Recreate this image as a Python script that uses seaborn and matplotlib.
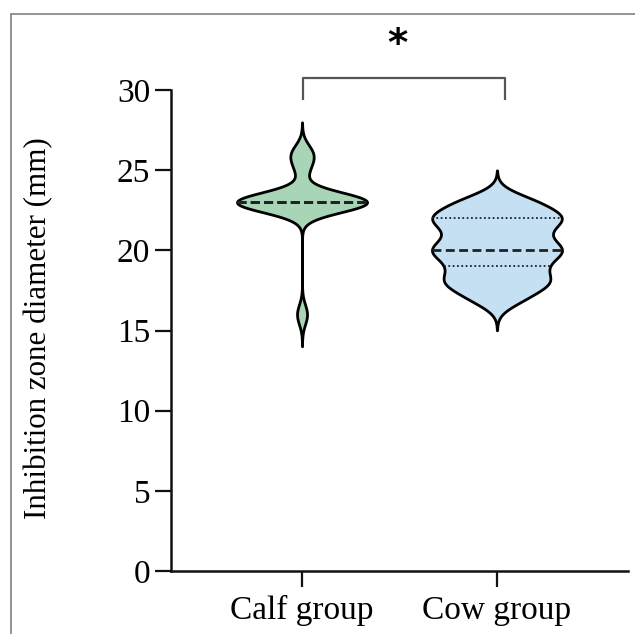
import numpy as np
import pandas as pd
import matplotlib
matplotlib.use("Agg")
import matplotlib.pyplot as plt
from matplotlib.lines import Line2D
import seaborn as sns

# ---- data ----
categories = ["Calf group", "Cow group"]
calf_values = [16, 23, 23, 23, 23, 23, 23, 23, 23, 23, 23, 23, 23, 23, 25, 26, 26]
cow_values = [17, 17, 18, 18, 18, 18, 19, 19, 19, 20, 20, 20, 20, 20,
              21, 21, 21, 22, 22, 22, 22, 22, 23, 23, 23]
yticks = [0, 5, 10, 15, 20, 25, 30]
ylabel = "Inhibition zone diameter (mm)"
sig_label = "*"
fill_colors = ["#a7d5b6", "#c5dff3"]

# ---- style ----
sns.set_style("ticks")
plt.rcParams["font.family"] = ["Liberation Serif", "DejaVu Serif"]
plt.rcParams["text.color"] = "black"
plt.rcParams["axes.labelcolor"] = "black"
plt.rcParams["xtick.color"] = "black"
plt.rcParams["ytick.color"] = "black"

df = pd.DataFrame({
    "group": [categories[0]] * len(calf_values) + [categories[1]] * len(cow_values),
    "value": calf_values + cow_values,
})

W, H = 635, 634
fig = plt.figure(figsize=(W / 100, H / 100), dpi=100)
ax = fig.add_axes([171 / W, 1 - 571 / H, (628 - 171) / W, (571 - 90) / H])

target_bw = 0.62
sns.violinplot(
    data=df, x="group", y="value", hue="group", order=categories,
    hue_order=categories, palette=dict(zip(categories, fill_colors)),
    legend=False, saturation=1, density_norm="width", width=0.667,
    bw_method=lambda k: target_bw / np.std(k.dataset, ddof=1),
    cut=3.2, gridsize=400, linewidth=2.0, linecolor="black",
    inner="quart", inner_kws=dict(linewidth=1.2, color="#222222"), ax=ax,
)

# median lines thicker (dashed), quartiles thin (dotted)
medians = [np.median(calf_values), np.median(cow_values)]
for ln in ax.lines:
    xd, yd = np.asarray(ln.get_xdata()), np.asarray(ln.get_ydata())
    if len(yd) == 2 and yd[0] == yd[1]:
        gi = int(round(np.mean(xd)))
        if np.isclose(yd[0], medians[gi]):
            ln.set_linewidth(2.0)
            ln.set_linestyle((0, (3.2, 1.6)))
        else:
            ln.set_linestyle((0, (1.0, 1.4)))
            ln.set_linewidth(1.3)

ax.set_xlim(-0.672, 1.672)
ax.set_ylim(0, 30)
ax.set_yticks(yticks)
ax.set_xlabel("")
ax.set_ylabel(ylabel, fontsize=22.3, color="black")
ax.yaxis.set_label_coords(-0.258, 0.505)
sns.despine(ax=ax)
for s in ["left", "bottom"]:
    ax.spines[s].set_linewidth(1.8)
    ax.spines[s].set_color("#111111")
ax.tick_params(axis="both", length=11.5, width=1.6, color="#111111",
               labelcolor="black", labelsize=24, direction="out")
ax.tick_params(axis="y", pad=3.5)
ax.tick_params(axis="x", pad=6)

# significance bracket
ax.plot([0.005, 0.005, 1.04, 1.04], [29.4, 30.75, 30.75, 29.4], color="#555555",
        lw=1.6, clip_on=False, solid_joinstyle="round", solid_capstyle="butt")
ax.text(0.49, 32.8, sig_label, ha="center", va="center", fontsize=28,
        fontweight="bold", family="DejaVu Sans", color="black", clip_on=False)

# outer frame (partial border)
x0, y0 = 11 / W, 1 - 14 / H
fig.add_artist(Line2D([x0, x0], [0, y0], color="#777777", lw=1.1,
                      transform=fig.transFigure))
fig.add_artist(Line2D([x0, 1], [y0, y0], color="#777777", lw=1.1,
                      transform=fig.transFigure))

fig.savefig("out.png", dpi=100)
